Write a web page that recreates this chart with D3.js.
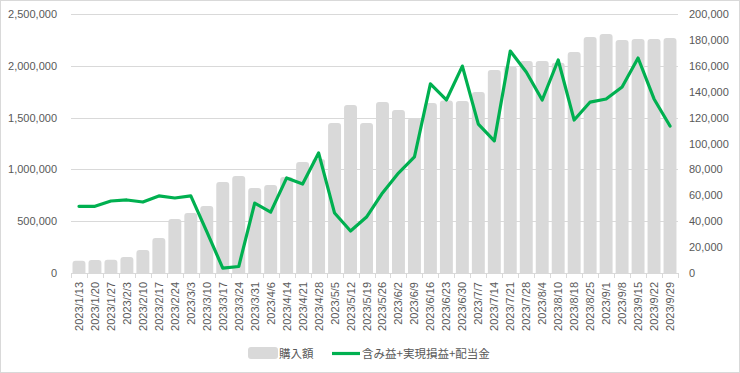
<!DOCTYPE html>
<meta charset="utf-8">
<script src="https://d3js.org/d3.v7.min.js"></script>
<style>
  body { margin: 0; background: #fff; }
  text { font-family: "Liberation Sans", Arial, sans-serif; fill: #595959; }
  .jp { font-family: "Noto Sans CJK JP", sans-serif; }
</style>
<div id="chart"></div>
<script>
// weekly dates
var dates = ["2023/1/13","2023/1/20","2023/1/27","2023/2/3","2023/2/10","2023/2/17","2023/2/24",
  "2023/3/3","2023/3/10","2023/3/17","2023/3/24","2023/3/31","2023/4/6","2023/4/14","2023/4/21",
  "2023/4/28","2023/5/5","2023/5/12","2023/5/19","2023/5/26","2023/6/2","2023/6/9","2023/6/16",
  "2023/6/23","2023/6/30","2023/7/7","2023/7/14","2023/7/21","2023/7/28","2023/8/4","2023/8/10",
  "2023/8/18","2023/8/25","2023/9/1","2023/9/8","2023/9/15","2023/9/22","2023/9/29"];

// 購入額 (left axis)
var purchase = [118000,125000,127000,154000,222000,338000,521000,579000,647000,878000,936000,
  820000,849000,927000,1071000,1100000,1448000,1622000,1448000,1651000,1573000,1496000,1641000,
  1665000,1660000,1747000,1959000,1995000,2046000,2046000,2030000,2133000,2278000,2307000,
  2249000,2259000,2259000,2268000];

// 含み益+実現損益+配当金 (right axis)
var profit = [51500,51500,55600,56400,54800,59500,57900,59500,32000,3800,5000,54000,47000,73400,
  68700,92700,46300,32400,43200,61800,77200,89600,146000,133600,159800,115000,102000,171400,
  155200,133600,164500,118100,132000,134400,143600,166000,134400,113500];

var leftTicks = [0,500000,1000000,1500000,2000000,2500000];
var rightTicks = [0,20000,40000,60000,80000,100000,120000,140000,160000,180000,200000];

var W = 740, H = 373;
var margin = {top: 14, right: 62, bottom: 100, left: 71};
var width = W - margin.left - margin.right,
    height = H - margin.top - margin.bottom;

var svg = d3.select("#chart").append("svg")
  .attr("width", W).attr("height", H);

svg.append("rect")
  .attr("x", 0.5).attr("y", 0.5)
  .attr("width", W - 1).attr("height", H - 1)
  .attr("fill", "#fff").attr("stroke", "#d9d9d9");

var g = svg.append("g")
  .attr("transform", "translate(" + margin.left + "," + margin.top + ")");

var x = d3.scaleBand().domain(dates).range([0, width]).paddingInner(0.19).paddingOuter(0.095);
var yL = d3.scaleLinear().domain([0, 2500000]).range([height, 0]);
var yR = d3.scaleLinear().domain([0, 200000]).range([height, 0]);
var fmt = d3.format(",");

// gridlines
g.append("g").selectAll("line")
  .data(leftTicks.slice(1))
  .enter().append("line")
    .attr("x1", 0).attr("x2", width)
    .attr("y1", function(d) { return Math.round(yL(d)) + 0.5; })
    .attr("y2", function(d) { return Math.round(yL(d)) + 0.5; })
    .attr("stroke", "#d9d9d9");

// left axis
var ax = g.append("g")
  .call(d3.axisLeft(yL).tickValues(leftTicks).tickFormat(fmt).tickSize(0).tickPadding(14));
ax.select(".domain").remove();
ax.selectAll("text").style("font-size", "11px").attr("fill", "#595959");

// right axis
var axR = g.append("g")
  .attr("transform", "translate(" + width + ",0)")
  .call(d3.axisRight(yR).tickValues(rightTicks).tickFormat(fmt).tickSize(0).tickPadding(11));
axR.select(".domain").remove();
axR.selectAll("text").style("font-size", "11px").attr("fill", "#595959");

// bars with rounded top
var bw = x.bandwidth(), r = 3;
g.append("g").selectAll("path")
  .data(purchase)
  .enter().append("path")
    .attr("fill", "#d9d9d9")
    .attr("d", function(d, i) {
      var x0 = x(dates[i]), y0 = yL(d), yb = height;
      return "M" + x0 + "," + yb + "V" + (y0 + r) +
        "Q" + x0 + "," + y0 + " " + (x0 + r) + "," + y0 +
        "H" + (x0 + bw - r) +
        "Q" + (x0 + bw) + "," + y0 + " " + (x0 + bw) + "," + (y0 + r) +
        "V" + yb + "Z";
    });

// x axis with boundary ticks
var step = x.step();
var xa = g.append("g").attr("transform", "translate(0," + height + ")");
xa.append("line").attr("x1", 0).attr("x2", width).attr("y1", 0.5).attr("y2", 0.5).attr("stroke", "#d9d9d9");
xa.selectAll(".tk")
  .data(d3.range(dates.length + 1))
  .enter().append("line")
    .attr("x1", function(i) { return Math.round(i * width / dates.length) + 0.5; })
    .attr("x2", function(i) { return Math.round(i * width / dates.length) + 0.5; })
    .attr("y1", 0).attr("y2", 5)
    .attr("stroke", "#d9d9d9");
xa.selectAll(".lbl")
  .data(dates)
  .enter().append("text")
    .attr("transform", function(d) {
      return "translate(" + (x(d) + bw / 2 + 4) + ",9) rotate(-90)";
    })
    .attr("text-anchor", "end")
    .style("font-size", "11px")
    .text(function(d) { return d; });

// line
var line = d3.line()
  .x(function(d, i) { return x(dates[i]) + bw / 2; })
  .y(function(d) { return yR(d); });
g.append("path")
  .datum(profit)
  .attr("fill", "none")
  .attr("stroke", "#00b050")
  .attr("stroke-width", 3.2)
  .attr("stroke-linejoin", "round")
  .attr("stroke-linecap", "round")
  .attr("d", line);

// legend
var lg = svg.append("g").attr("transform", "translate(248,347)");
lg.append("rect").attr("x", 0).attr("y", 0).attr("width", 30).attr("height", 12)
  .attr("rx", 3).attr("fill", "#d9d9d9");
lg.append("text").attr("class", "jp").attr("x", 31).attr("y", 10.5)
  .style("font-size", "11.5px").text("購入額");
lg.append("line").attr("x1", 84).attr("x2", 112).attr("y1", 6.5).attr("y2", 6.5)
  .attr("stroke", "#00b050").attr("stroke-width", 3.2);
lg.append("text").attr("class", "jp").attr("x", 114).attr("y", 10.5)
  .style("font-size", "11.5px").text("含み益+実現損益+配当金");
</script>
